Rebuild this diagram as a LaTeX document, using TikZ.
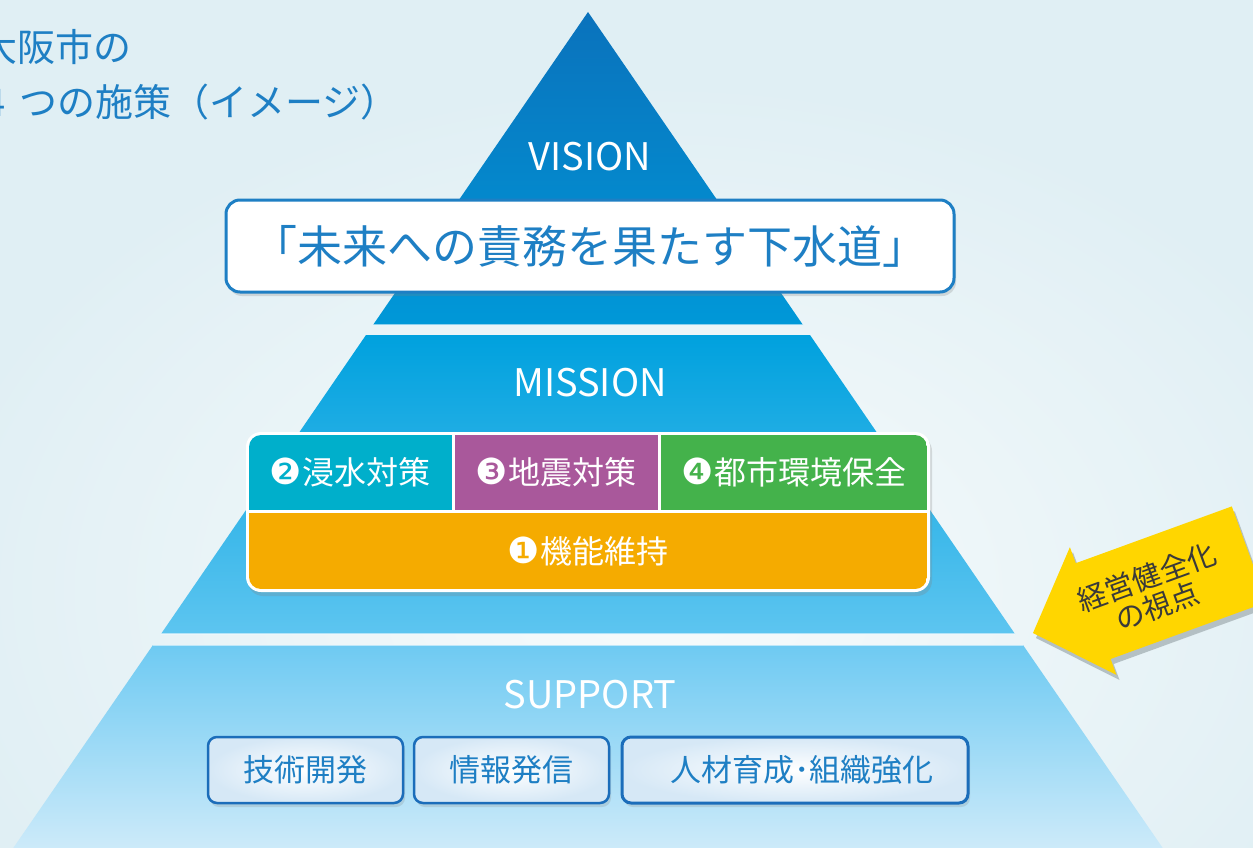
\documentclass[tikz,border=0pt]{standalone}
\usepackage{fontspec}
\setmainfont{Noto Sans CJK JP}
\newfontfamily\dejavu{DejaVu Sans}
\usetikzlibrary{shadows}
\definecolor{bg}{HTML}{E0EFF4}
\definecolor{ttop}{HTML}{0A72BC}
\definecolor{tbot}{HTML}{0098D8}
\definecolor{mtop}{HTML}{00A1DE}
\definecolor{mbot}{HTML}{5DC5F0}
\definecolor{sttop}{HTML}{6ECAF2}
\definecolor{stbot}{HTML}{D2ECFA}
\definecolor{oblue}{HTML}{1E7FC4}
\definecolor{bborder}{HTML}{1B6DBA}
\definecolor{cyanT}{HTML}{00AFCB}
\definecolor{purpT}{HTML}{A9589B}
\definecolor{greenT}{HTML}{44B24B}
\definecolor{orangeT}{HTML}{F5AB00}
\definecolor{yel}{HTML}{FFD600}
\definecolor{ygray}{HTML}{B4C0C4}
\definecolor{ytext}{HTML}{3A3A3A}
\definecolor{glow}{HTML}{D6E8F6}
\newcommand{\circdig}[1]{{\dejavu\fontsize{36}{36}\selectfont #1}}
\begin{document}
\begin{tikzpicture}[x=1pt,y=-1pt,
  lab/.style={text=white, font=\fontsize{38}{40}\selectfont, inner sep=0pt},
  visbox/.style={draw=oblue, line width=3pt, fill=white, rounded corners=14pt,
    minimum width=728pt, minimum height=92pt, text=oblue, inner sep=0pt,
    font=\fontsize{45}{48}\selectfont,
    drop shadow={opacity=0.25, shadow xshift=2pt, shadow yshift=-4pt}},
  mtext/.style={text=white, font=\fontsize{32}{34}\selectfont, inner sep=0pt},
  sbox/.style={draw=bborder, line width=2.5pt, inner color=white, outer color=glow,
    rounded corners=9pt, minimum height=66pt, text=oblue, inner sep=0pt,
    font=\fontsize{31}{33}\selectfont,
    drop shadow={opacity=0.22, shadow xshift=2pt, shadow yshift=-4pt}},
  titletext/.style={text=oblue, font=\fontsize{38}{40}\selectfont, inner sep=0pt, anchor=west},
  edge/.style={white, opacity=0.55, line width=1.5pt}
]
\useasboundingbox (0,0) rectangle (1253,848);
% background
\fill[bg] (0,0) rectangle (1253,848);
\begin{scope}
  \clip (0,0) rectangle (1253,848);
  \shade[inner color=white!75!bg, outer color=bg] (-80,80) rectangle (1400,1100);
\end{scope}

% pyramid tiers
\shade[top color=ttop, bottom color=tbot] (588,12) -- (803,325) -- (373,325) -- cycle;
\shade[top color=mtop, bottom color=mbot] (366,335) -- (810,335) -- (1015,634) -- (161,634) -- cycle;
\shade[top color=sttop, bottom color=stbot] (153,645) -- (1023,645) -- (1171,860) -- (5,860) -- cycle;
\draw[edge] (373,325) -- (803,325);
\draw[edge] (161,634) -- (1015,634);
\draw[edge] (153,645.5) -- (1023,645.5);

% title text
\node[titletext] (title1) at (-21,47) {大阪市の};
\node[titletext] (title2) at (-16,102) {4\hspace{14pt}つの施策（イメージ）};

% vision
\node[lab] (vision) at (590,157) {VISION};
\node[visbox] (vbox) at (590,246) {「未来への責務を果たす下水道」};

% mission
\node[lab] (mission) at (590,383) {MISSION};
\node[fill=white, rounded corners=15pt, minimum width=684pt, minimum height=160pt,
  drop shadow={opacity=0.25, shadow xshift=2pt, shadow yshift=-4pt}] (mframe) at (588,512) {};
\begin{scope}
  \clip[rounded corners=12pt] (249,435) rectangle (927,589);
  \fill[cyanT] (249,435) rectangle (451.5,509.5);
  \fill[purpT] (454.5,435) rectangle (657.5,509.5);
  \fill[greenT] (660.5,435) rectangle (927,509.5);
  \fill[orangeT] (249,512.5) rectangle (927,589);
\end{scope}
\node[mtext] (m2) at (350,472) {\circdig{❷}浸水対策};
\node[mtext] (m3) at (556,472) {\circdig{❸}地震対策};
\node[mtext] (m4) at (794,472) {\circdig{❹}都市環境保全};
\node[mtext] (m1) at (588,551) {\circdig{❶}機能維持};

% support
\node[lab] (support) at (590,695) {SUPPORT};
\node[sbox, minimum width=195pt] (s1) at (305.5,770) {技術開発};
\node[sbox, minimum width=195pt] (s2) at (511.5,770) {情報発信};
\node[sbox, minimum width=346pt, line width=3pt] (s3) at (795,770) {\hspace*{14pt}人材育成･組織強化};

% yellow arrow
\fill[ygray] (1036,638) -- (1072.9,552.2) -- (1078.8,568.2) -- (1234.8,511.4) -- (1269.6,607.2) -- (1113.6,664) -- (1119.5,680) -- cycle;
\fill[yel] (1033,633) -- (1069.9,547.2) -- (1075.8,563.2) -- (1231.8,506.4) -- (1266.6,602.2) -- (1110.6,659) -- (1116.5,675) -- cycle;
\node[rotate=20, text=ytext, align=center, inner sep=0pt,
  font=\fontsize{29}{31}\selectfont] (ylabel) at (1152,592) {経営健全化\\の視点};
\end{tikzpicture}
\end{document}
